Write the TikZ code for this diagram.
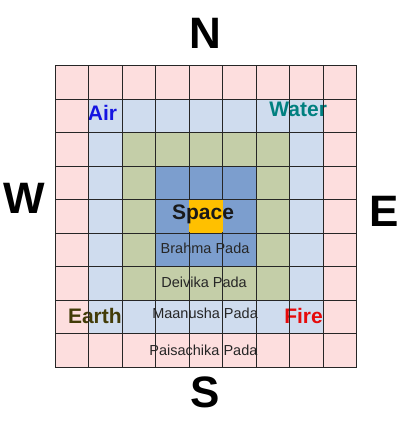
\documentclass[tikz,border=0pt]{standalone}
\usepackage{fontspec}
\setmainfont{Liberation Sans}

\definecolor{padapink}{RGB}{253,222,222}
\definecolor{padalight}{RGB}{207,220,238}
\definecolor{padaolive}{RGB}{196,206,168}
\definecolor{padablue}{RGB}{124,158,206}
\definecolor{padagold}{RGB}{255,192,0}
\definecolor{airblue}{RGB}{20,20,225}
\definecolor{waterteal}{RGB}{0,128,128}
\definecolor{earthbrown}{RGB}{66,60,8}
\definecolor{firered}{RGB}{230,10,10}

\tikzset{
    compass/.style={font=\fontsize{44}{44}\selectfont\bfseries, inner sep=0pt},
    element/.style={font=\fontsize{21}{21}\selectfont\bfseries, inner sep=0pt},
    pada/.style={font=\fontsize{14.5}{14.5}\selectfont, text=black!85, inner sep=0pt},
    gridline/.style={line width=1pt, black!85}
}

\begin{document}
\begin{tikzpicture}[x=1pt, y=-1pt]
    \useasboundingbox (0,0) rectangle (404,426);

    % Directions
    \node[compass] (north) at (205.5,33.5) {N};
    \node[compass] (south) at (205.5,392.5) {S};
    \node[compass] (west) at (24,198) {W};
    \node[compass] (east) at (384,211) {E};

    \begin{scope}[shift={(55pt,-65.5pt)}, x=33.5pt, y=-33.5pt]
        % Fill the rings, outside in
        \fill[padapink] (0,0) rectangle (9,9);
        \fill[padalight] (1,1) rectangle (8,8);
        \fill[padaolive] (2,2) rectangle (7,7);
        \fill[padablue] (3,3) rectangle (6,6);
        \fill[padagold] (4,4) rectangle (5,5);

        % Labels under the grid
        \node[element, text=airblue] (air) at (1.42,1.40) {Air};
        \node[element, text=waterteal] (water) at (7.26,1.30) {Water};
        \node[element, text=earthbrown] (earth) at (1.19,7.49) {Earth};
        \node[element, text=firered] (fire) at (7.42,7.48) {Fire};

        \node[pada] (brahma) at (4.48,5.46) {Brahma Pada};
        \node[pada] (deivika) at (4.45,6.46) {Deivika Pada};
        \node[pada] (maanusha) at (4.48,7.39) {Maanusha Pada};
        \node[pada] (paisachika) at (4.43,8.49) {Paisachika Pada};

        % Draw the grid
        \foreach \i in {0,...,9} {
            \draw[gridline] (\i,0) -- (\i,9); % vertical lines
            \draw[gridline] (0,\i) -- (9,\i); % horizontal lines
        }

        % Centre row has no inner lines
        \fill[padablue] (3.02,4.02) rectangle (5.98,4.98);
        \fill[padagold] (4,4.02) rectangle (5,4.98);
        \node[element, text=black!90] (space) at (4.42,4.45) {Space};
    \end{scope}
\end{tikzpicture}
\end{document}
